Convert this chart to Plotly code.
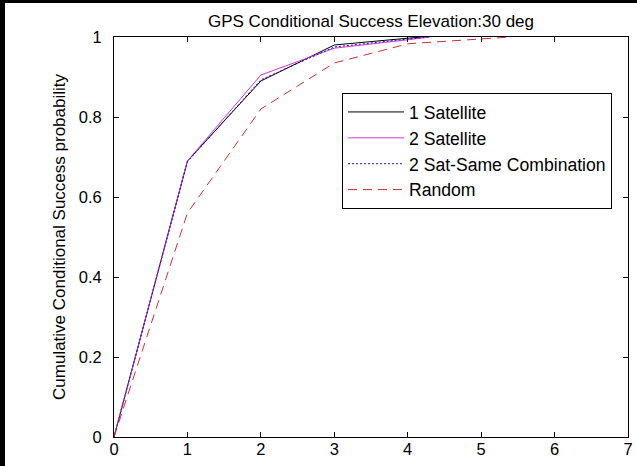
import plotly.graph_objects as go

# ---- data ----
sat1_x = [0, 1, 2, 3, 4, 4.2]
sat1_y = [0, 0.69, 0.89, 0.98, 0.997, 1.0]

sat2_x = [0, 1, 2, 3, 4, 4.3]
sat2_y = [0, 0.69, 0.905, 0.972, 0.993, 1.0]

same_x = [0, 1, 2, 3, 4, 4.3]
same_y = [0, 0.688, 0.893, 0.975, 0.995, 1.0]

rand_x = [0, 1, 2, 3, 4, 5, 5.4]
rand_y = [0, 0.56, 0.82, 0.935, 0.983, 0.996, 1.0]

names = ["1 Satellite", "2 Satellite", "2 Sat-Same Combination", "Random"]
x_ticks = [0, 1, 2, 3, 4, 5, 6, 7]
y_ticks = [0, 0.2, 0.4, 0.6, 0.8, 1]
y_tick_labels = ["0", "0.2", "0.4", "0.6", "0.8", "1"]

title_text = "GPS Conditional Success Elevation:30 deg"
ylabel_text = "Cumulative Conditional Success probability"

# ---- layout constants ----
W, H = 637, 466
L, R, T, B = 114, 9, 37, 29
PW, PH = W - L - R, H - T - B
FONT = "Liberation Sans, Arial, Helvetica, sans-serif"

fig = go.Figure()
series = [
    (sat1_x, sat1_y, dict(color="#000000", width=1)),
    (sat2_x, sat2_y, dict(color="#dc30dc", width=1)),
    (same_x, same_y, dict(color="#1818b8", width=1, dash="2px,2px")),
    (rand_x, rand_y, dict(color="#cc3030", width=1, dash="9px,6px")),
]
for i, (xs, ys, ln) in enumerate(series):
    fig.add_trace(go.Scatter(x=xs, y=ys, mode="lines", name=names[i], line=ln))

def px_x(p):
    return (p - L) / PW

def px_y(p):
    return (H - B - p) / PH

axis_common = dict(showline=True, linecolor="black", linewidth=1, mirror="ticks",
                   ticks="inside", ticklen=5, tickcolor="black", tickwidth=1,
                   showgrid=False, zeroline=False, automargin=False,
                   tickfont=dict(family=FONT, size=16.5, color="black"))

fig.update_layout(
    width=W, height=H,
    margin=dict(l=L, r=R, t=T, b=B, pad=0, autoexpand=False),
    paper_bgcolor="white", plot_bgcolor="white",
    font=dict(family=FONT, size=17, color="black"),
    title=dict(text=title_text, xref="paper", x=0.5, xanchor="center",
               yref="container", y=1 - 21 / H, yanchor="middle",
               font=dict(family=FONT, size=17, color="black")),
    xaxis=dict(range=[0, 7], tickvals=x_ticks, ticklabelstandoff=-3, **axis_common),
    yaxis=dict(range=[0, 1], tickvals=y_ticks, ticktext=y_tick_labels,
               ticklabelstandoff=8,
               title=dict(text=ylabel_text, standoff=8,
                          font=dict(family=FONT, size=17, color="black")),
               **axis_common),
    legend=dict(x=px_x(342), y=px_y(93), xanchor="left", yanchor="top",
                bgcolor="white", bordercolor="black", borderwidth=1,
                font=dict(family=FONT, size=17.6, color="black"),
                itemwidth=56),
    showlegend=True,
    shapes=[
        dict(type="rect", xref="paper", yref="paper",
             x0=px_x(0), x1=px_x(5), y0=px_y(H), y1=px_y(0),
             fillcolor="black", line=dict(width=0), layer="above"),
        dict(type="rect", xref="paper", yref="paper",
             x0=px_x(0), x1=px_x(W), y0=px_y(3), y1=px_y(0),
             fillcolor="black", line=dict(width=0), layer="above"),
    ],
)

fig.write_html("out.html")
